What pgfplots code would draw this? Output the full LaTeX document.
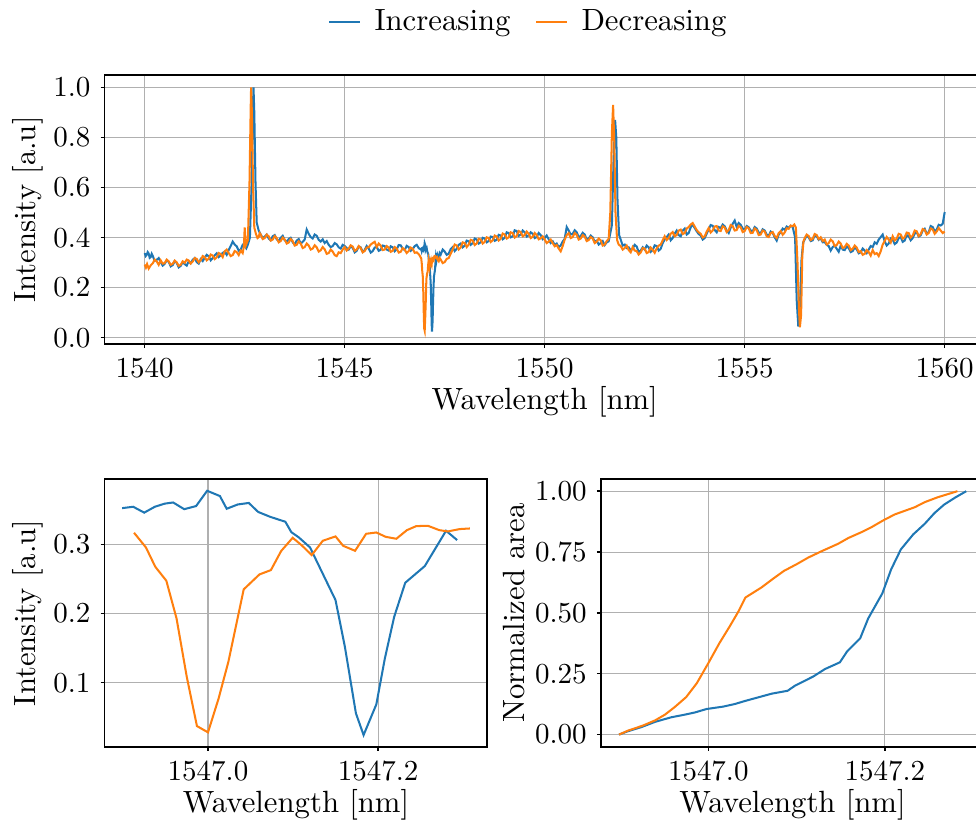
\documentclass[border=0pt]{standalone}
\usepackage{pgfplots}
\pgfplotsset{compat=1.18}

\definecolor{cblue}{RGB}{31,119,180}
\definecolor{corange}{RGB}{255,127,14}
\definecolor{gridgray}{RGB}{176,176,176}

\newcommand{\labelfont}{\fontsize{10.6}{12.7}\selectfont}

% shared look of the three panels
\pgfplotsset{
  specax/.style={
    scale only axis,
    axis line style={black, line width=0.55pt},
    grid=major,
    major grid style={gridgray, line width=0.35pt},
    tick align=outside,
    xtick pos=bottom, ytick pos=left,
    major tick length=1.4pt,
    every tick/.style={black, line width=0.5pt},
    every axis plot/.append style={line width=0.7pt, mark=none},
    label style={font=\labelfont},
    xlabel style={anchor=center},
    ylabel style={anchor=center},
  },
}

% Sweep with increasing wavelength: wavelength [nm], intensity [a.u.]
\pgfplotstableread{
wl intensity
1540.00 0.338
1540.025 0.326
1540.05 0.331
1540.075 0.342
1540.10 0.336
1540.125 0.319
1540.15 0.322
1540.175 0.335
1540.20 0.327
1540.25 0.307
1540.30 0.311
1540.35 0.318
1540.40 0.302
1540.45 0.288
1540.50 0.295
1540.55 0.309
1540.60 0.303
1540.65 0.285
1540.70 0.290
1540.75 0.306
1540.80 0.299
1540.85 0.281
1540.90 0.287
1540.95 0.302
1541.00 0.294
1541.05 0.288
1541.10 0.305
1541.15 0.297
1541.20 0.311
1541.25 0.318
1541.30 0.302
1541.35 0.296
1541.40 0.314
1541.45 0.306
1541.50 0.319
1541.55 0.331
1541.60 0.325
1541.65 0.309
1541.70 0.318
1541.75 0.329
1541.80 0.337
1541.85 0.322
1541.90 0.329
1541.95 0.339
1542.00 0.343
1542.05 0.331
1542.10 0.350
1542.15 0.366
1542.20 0.384
1542.25 0.372
1542.30 0.365
1542.35 0.348
1542.40 0.352
1542.45 0.371
1542.50 0.366
1542.54 0.357
1542.58 0.372
1542.63 0.400
1542.67 0.600
1542.70 0.880
1542.72 1.000
1542.74 0.900
1542.77 0.620
1542.80 0.460
1542.85 0.428
1542.90 0.412
1542.95 0.398
1543.00 0.404
1543.05 0.412
1543.10 0.396
1543.15 0.389
1543.20 0.405
1543.25 0.410
1543.30 0.393
1543.35 0.386
1543.40 0.399
1543.45 0.407
1543.50 0.389
1543.55 0.384
1543.60 0.394
1543.65 0.399
1543.70 0.381
1543.75 0.372
1543.80 0.388
1543.85 0.394
1543.90 0.376
1543.95 0.383
1544.00 0.392
1544.05 0.432
1544.10 0.415
1544.15 0.402
1544.20 0.396
1544.25 0.412
1544.30 0.407
1544.35 0.391
1544.40 0.384
1544.45 0.393
1544.50 0.378
1544.55 0.386
1544.60 0.371
1544.65 0.362
1544.70 0.366
1544.75 0.378
1544.80 0.373
1544.85 0.361
1544.90 0.356
1544.95 0.371
1545.00 0.366
1545.05 0.358
1545.10 0.352
1545.15 0.365
1545.20 0.359
1545.25 0.341
1545.30 0.347
1545.35 0.364
1545.40 0.361
1545.45 0.343
1545.50 0.350
1545.55 0.366
1545.60 0.356
1545.65 0.340
1545.70 0.346
1545.75 0.360
1545.80 0.363
1545.85 0.347
1545.90 0.351
1545.95 0.368
1546.00 0.366
1546.05 0.352
1546.10 0.348
1546.15 0.365
1546.20 0.361
1546.25 0.345
1546.30 0.353
1546.35 0.370
1546.40 0.369
1546.45 0.356
1546.50 0.350
1546.55 0.367
1546.60 0.362
1546.65 0.347
1546.70 0.354
1546.75 0.366
1546.80 0.371
1546.85 0.358
1546.899 0.3525
1546.912 0.3545
1546.925 0.346
1546.9375 0.3545
1546.949 0.359
1546.959 0.3607
1546.972 0.351
1546.986 0.3555
1546.999 0.3776
1547.014 0.370
1547.022 0.3516
1547.035 0.3578
1547.048 0.360
1547.059 0.347
1547.073 0.340
1547.091 0.3328
1547.098 0.3178
1547.107 0.310
1547.120 0.2957
1547.150 0.2195
1547.161 0.152
1547.174 0.0557
1547.183 0.0243
1547.198 0.0687
1547.208 0.135
1547.219 0.1954
1547.232 0.2446
1547.255 0.2687
1547.280 0.3198
1547.293 0.3063
1547.32 0.331
1547.35 0.318
1547.375 0.338
1547.40 0.332
1547.45 0.352
1547.50 0.344
1547.55 0.331
1547.60 0.336
1547.65 0.354
1547.70 0.362
1547.75 0.346
1547.80 0.355
1547.85 0.371
1547.90 0.376
1547.95 0.361
1548.00 0.368
1548.05 0.388
1548.10 0.385
1548.15 0.371
1548.20 0.378
1548.25 0.396
1548.30 0.392
1548.35 0.376
1548.40 0.381
1548.45 0.399
1548.50 0.396
1548.55 0.381
1548.60 0.386
1548.65 0.404
1548.70 0.402
1548.75 0.387
1548.80 0.391
1548.85 0.411
1548.90 0.408
1548.95 0.393
1549.00 0.399
1549.05 0.421
1549.10 0.418
1549.15 0.401
1549.20 0.405
1549.25 0.429
1549.30 0.426
1549.35 0.407
1549.40 0.412
1549.45 0.428
1549.50 0.421
1549.55 0.404
1549.60 0.409
1549.65 0.421
1549.70 0.415
1549.75 0.398
1549.80 0.402
1549.85 0.418
1549.90 0.410
1549.95 0.393
1550.00 0.398
1550.05 0.408
1550.10 0.393
1550.15 0.378
1550.20 0.385
1550.25 0.371
1550.30 0.376
1550.35 0.362
1550.40 0.368
1550.45 0.384
1550.50 0.395
1550.55 0.442
1550.60 0.428
1550.65 0.412
1550.70 0.415
1550.75 0.429
1550.80 0.421
1550.85 0.402
1550.90 0.406
1550.95 0.419
1551.00 0.412
1551.05 0.392
1551.10 0.396
1551.15 0.408
1551.20 0.401
1551.25 0.384
1551.30 0.388
1551.35 0.372
1551.40 0.378
1551.45 0.386
1551.50 0.370
1551.55 0.381
1551.60 0.385
1551.68 0.450
1551.72 0.700
1551.76 0.870
1551.79 0.800
1551.82 0.550
1551.86 0.410
1551.90 0.392
1551.95 0.368
1552.00 0.372
1552.05 0.358
1552.10 0.361
1552.15 0.349
1552.20 0.356
1552.25 0.371
1552.30 0.364
1552.35 0.342
1552.40 0.348
1552.45 0.361
1552.50 0.352
1552.55 0.368
1552.60 0.361
1552.65 0.343
1552.70 0.350
1552.75 0.369
1552.80 0.366
1552.85 0.348
1552.90 0.355
1552.95 0.378
1553.00 0.392
1553.05 0.402
1553.10 0.412
1553.15 0.389
1553.20 0.398
1553.25 0.416
1553.30 0.428
1553.35 0.410
1553.40 0.405
1553.45 0.428
1553.50 0.436
1553.55 0.412
1553.60 0.418
1553.65 0.441
1553.70 0.452
1553.75 0.438
1553.80 0.425
1553.85 0.414
1553.90 0.408
1553.95 0.392
1554.00 0.398
1554.05 0.416
1554.10 0.432
1554.15 0.450
1554.20 0.447
1554.25 0.430
1554.30 0.421
1554.35 0.442
1554.40 0.438
1554.45 0.452
1554.50 0.445
1554.55 0.428
1554.60 0.418
1554.65 0.440
1554.70 0.455
1554.75 0.468
1554.80 0.442
1554.85 0.458
1554.90 0.451
1554.95 0.436
1555.00 0.432
1555.05 0.446
1555.10 0.441
1555.15 0.428
1555.20 0.425
1555.25 0.442
1555.30 0.436
1555.35 0.420
1555.40 0.418
1555.45 0.433
1555.50 0.428
1555.55 0.412
1555.60 0.407
1555.65 0.424
1555.70 0.419
1555.75 0.401
1555.80 0.388
1555.85 0.412
1555.90 0.422
1555.95 0.436
1556.00 0.431
1556.05 0.444
1556.10 0.438
1556.15 0.447
1556.20 0.442
1556.26 0.400
1556.30 0.150
1556.34 0.045
1556.38 0.120
1556.42 0.310
1556.46 0.380
1556.50 0.392
1556.55 0.408
1556.60 0.401
1556.65 0.386
1556.70 0.389
1556.75 0.409
1556.80 0.405
1556.85 0.391
1556.90 0.398
1556.95 0.381
1557.00 0.382
1557.05 0.371
1557.10 0.366
1557.15 0.348
1557.20 0.362
1557.25 0.368
1557.30 0.355
1557.35 0.343
1557.40 0.368
1557.45 0.352
1557.50 0.350
1557.55 0.364
1557.60 0.358
1557.65 0.342
1557.70 0.346
1557.75 0.361
1557.80 0.353
1557.85 0.337
1557.90 0.341
1557.95 0.356
1558.00 0.348
1558.05 0.338
1558.10 0.352
1558.15 0.366
1558.20 0.362
1558.25 0.381
1558.30 0.375
1558.35 0.392
1558.40 0.402
1558.45 0.412
1558.50 0.385
1558.55 0.368
1558.60 0.376
1558.65 0.396
1558.70 0.392
1558.75 0.374
1558.80 0.380
1558.85 0.398
1558.90 0.402
1558.95 0.383
1559.00 0.388
1559.05 0.410
1559.10 0.405
1559.15 0.389
1559.20 0.398
1559.25 0.416
1559.30 0.422
1559.35 0.404
1559.40 0.409
1559.45 0.428
1559.50 0.435
1559.55 0.416
1559.60 0.421
1559.65 0.446
1559.70 0.442
1559.75 0.425
1559.80 0.432
1559.85 0.451
1559.90 0.448
1559.95 0.455
1560.00 0.502
}\incfull

% Sweep with decreasing wavelength
\pgfplotstableread{
wl intensity
1540.00 0.292
1540.03 0.280
1540.06 0.294
1540.10 0.276
1540.15 0.289
1540.20 0.297
1540.25 0.312
1540.30 0.305
1540.35 0.291
1540.40 0.309
1540.45 0.296
1540.50 0.298
1540.55 0.312
1540.60 0.305
1540.65 0.291
1540.70 0.295
1540.75 0.308
1540.80 0.301
1540.85 0.287
1540.90 0.291
1540.95 0.305
1541.00 0.299
1541.05 0.312
1541.10 0.308
1541.15 0.296
1541.20 0.304
1541.25 0.318
1541.30 0.315
1541.35 0.301
1541.40 0.309
1541.45 0.326
1541.50 0.322
1541.55 0.309
1541.60 0.316
1541.65 0.332
1541.70 0.328
1541.75 0.314
1541.80 0.321
1541.85 0.338
1541.90 0.334
1541.95 0.322
1542.00 0.345
1542.05 0.352
1542.10 0.338
1542.15 0.326
1542.20 0.330
1542.25 0.346
1542.30 0.342
1542.35 0.330
1542.40 0.348
1542.45 0.338
1542.48 0.365
1542.50 0.440
1542.53 0.370
1542.58 0.390
1542.62 0.620
1542.65 0.920
1542.66 1.000
1542.68 0.900
1542.71 0.600
1542.74 0.440
1542.78 0.415
1542.82 0.398
1542.85 0.402
1542.875 0.418
1542.90 0.412
1542.95 0.394
1543.00 0.398
1543.05 0.412
1543.10 0.405
1543.15 0.388
1543.20 0.392
1543.25 0.406
1543.30 0.398
1543.35 0.381
1543.40 0.386
1543.45 0.400
1543.50 0.392
1543.55 0.376
1543.60 0.380
1543.65 0.394
1543.70 0.386
1543.75 0.368
1543.80 0.371
1543.85 0.385
1543.90 0.376
1543.95 0.358
1544.00 0.362
1544.05 0.376
1544.10 0.368
1544.15 0.352
1544.20 0.356
1544.25 0.369
1544.30 0.361
1544.35 0.344
1544.40 0.349
1544.45 0.362
1544.50 0.353
1544.55 0.335
1544.60 0.338
1544.65 0.352
1544.70 0.344
1544.75 0.330
1544.80 0.326
1544.85 0.341
1544.90 0.338
1544.95 0.352
1545.00 0.362
1545.05 0.348
1545.10 0.356
1545.15 0.369
1545.20 0.364
1545.25 0.347
1545.30 0.352
1545.35 0.366
1545.40 0.358
1545.45 0.341
1545.50 0.346
1545.55 0.360
1545.60 0.361
1545.65 0.372
1545.70 0.378
1545.75 0.383
1545.80 0.362
1545.85 0.376
1545.90 0.368
1545.95 0.350
1546.00 0.352
1546.05 0.366
1546.10 0.360
1546.15 0.343
1546.20 0.347
1546.25 0.362
1546.30 0.356
1546.35 0.340
1546.40 0.343
1546.45 0.358
1546.50 0.352
1546.55 0.338
1546.60 0.346
1546.65 0.360
1546.70 0.355
1546.75 0.339
1546.80 0.341
1546.86 0.332
1546.913 0.3169
1546.927 0.2957
1546.938 0.2677
1546.951 0.2475
1546.963 0.193
1546.975 0.1087
1546.987 0.0373
1547.000 0.0282
1547.0125 0.0773
1547.024 0.1304
1547.042 0.235
1547.0605 0.2566
1547.074 0.2629
1547.086 0.2904
1547.0996 0.3096
1547.110 0.299
1547.122 0.2846
1547.135 0.3053
1547.150 0.3116
1547.159 0.298
1547.173 0.2908
1547.186 0.3154
1547.198 0.3173
1547.209 0.311
1547.2215 0.3082
1547.234 0.3207
1547.245 0.3265
1547.2586 0.327
1547.272 0.3207
1547.282 0.3188
1547.296 0.3222
1547.308 0.3231
1547.33 0.309
1547.35 0.305
1547.375 0.318
1547.40 0.312
1547.45 0.298
1547.50 0.302
1547.55 0.315
1547.60 0.318
1547.65 0.336
1547.70 0.352
1547.75 0.372
1547.80 0.368
1547.85 0.352
1547.90 0.360
1547.95 0.381
1548.00 0.378
1548.05 0.362
1548.10 0.372
1548.15 0.391
1548.20 0.388
1548.25 0.370
1548.30 0.376
1548.35 0.395
1548.40 0.392
1548.45 0.376
1548.50 0.383
1548.55 0.401
1548.60 0.398
1548.65 0.382
1548.70 0.389
1548.75 0.408
1548.80 0.404
1548.85 0.388
1548.90 0.395
1548.95 0.416
1549.00 0.412
1549.05 0.396
1549.10 0.401
1549.15 0.421
1549.20 0.418
1549.25 0.400
1549.30 0.406
1549.35 0.426
1549.40 0.422
1549.45 0.405
1549.50 0.410
1549.55 0.424
1549.60 0.415
1549.65 0.398
1549.70 0.403
1549.75 0.418
1549.80 0.410
1549.85 0.393
1549.90 0.397
1549.95 0.405
1550.00 0.392
1550.05 0.378
1550.10 0.384
1550.15 0.392
1550.20 0.378
1550.25 0.365
1550.30 0.370
1550.35 0.356
1550.40 0.345
1550.45 0.366
1550.50 0.392
1550.55 0.410
1550.60 0.418
1550.65 0.398
1550.70 0.402
1550.75 0.418
1550.80 0.411
1550.85 0.392
1550.90 0.396
1550.95 0.410
1551.00 0.404
1551.05 0.386
1551.10 0.390
1551.15 0.402
1551.20 0.396
1551.25 0.378
1551.30 0.383
1551.35 0.396
1551.40 0.389
1551.45 0.368
1551.50 0.372
1551.55 0.386
1551.60 0.395
1551.64 0.500
1551.68 0.820
1551.71 0.930
1551.74 0.780
1551.77 0.500
1551.81 0.390
1551.85 0.372
1551.90 0.366
1551.95 0.352
1552.00 0.358
1552.05 0.368
1552.10 0.350
1552.15 0.341
1552.20 0.362
1552.25 0.348
1552.30 0.346
1552.35 0.332
1552.40 0.340
1552.45 0.358
1552.50 0.356
1552.55 0.338
1552.60 0.342
1552.65 0.360
1552.70 0.351
1552.75 0.339
1552.80 0.357
1552.85 0.368
1552.90 0.372
1552.95 0.389
1553.00 0.405
1553.05 0.390
1553.10 0.398
1553.15 0.415
1553.20 0.422
1553.25 0.405
1553.30 0.410
1553.35 0.428
1553.40 0.432
1553.45 0.414
1553.50 0.418
1553.55 0.436
1553.60 0.442
1553.65 0.452
1553.70 0.458
1553.75 0.444
1553.80 0.430
1553.85 0.421
1553.90 0.415
1553.95 0.400
1554.00 0.405
1554.05 0.424
1554.10 0.438
1554.15 0.420
1554.20 0.428
1554.25 0.444
1554.30 0.446
1554.35 0.428
1554.40 0.426
1554.45 0.445
1554.50 0.440
1554.55 0.422
1554.60 0.430
1554.65 0.450
1554.70 0.446
1554.75 0.428
1554.80 0.430
1554.85 0.447
1554.90 0.441
1554.95 0.422
1555.00 0.426
1555.05 0.442
1555.10 0.437
1555.15 0.418
1555.20 0.419
1555.25 0.436
1555.30 0.430
1555.35 0.410
1555.40 0.412
1555.45 0.428
1555.50 0.424
1555.55 0.405
1555.60 0.402
1555.65 0.418
1555.70 0.422
1555.75 0.406
1555.80 0.398
1555.85 0.418
1555.90 0.426
1555.95 0.411
1556.00 0.420
1556.05 0.437
1556.10 0.435
1556.15 0.448
1556.20 0.445
1556.24 0.452
1556.28 0.440
1556.32 0.300
1556.36 0.100
1556.38 0.042
1556.41 0.090
1556.44 0.330
1556.47 0.385
1556.50 0.398
1556.55 0.412
1556.60 0.406
1556.65 0.390
1556.70 0.395
1556.75 0.414
1556.80 0.410
1556.85 0.394
1556.90 0.401
1556.95 0.386
1557.00 0.392
1557.05 0.372
1557.10 0.378
1557.15 0.392
1557.20 0.385
1557.25 0.366
1557.30 0.370
1557.35 0.384
1557.40 0.376
1557.45 0.358
1557.50 0.362
1557.55 0.375
1557.60 0.368
1557.65 0.350
1557.70 0.355
1557.75 0.368
1557.80 0.360
1557.85 0.342
1557.90 0.346
1557.95 0.331
1558.00 0.335
1558.05 0.350
1558.10 0.342
1558.15 0.328
1558.20 0.350
1558.25 0.334
1558.30 0.338
1558.35 0.326
1558.40 0.345
1558.45 0.372
1558.50 0.386
1558.55 0.402
1558.60 0.392
1558.65 0.380
1558.70 0.405
1558.75 0.388
1558.80 0.396
1558.85 0.415
1558.90 0.412
1558.95 0.395
1559.00 0.402
1559.05 0.420
1559.10 0.418
1559.15 0.400
1559.20 0.408
1559.25 0.428
1559.30 0.425
1559.35 0.406
1559.40 0.414
1559.45 0.434
1559.50 0.430
1559.55 0.412
1559.60 0.418
1559.65 0.436
1559.70 0.432
1559.75 0.415
1559.80 0.424
1559.85 0.438
1559.90 0.428
1559.95 0.418
1560.00 0.424
}\decfull

% Zoom on the resonance near 1547 nm; dl = wavelength - 1547 nm
\pgfplotstableread{
dl intensity
-0.101 0.3525
-0.088 0.3545
-0.075 0.346
-0.0625 0.3545
-0.051 0.359
-0.041 0.3607
-0.028 0.351
-0.014 0.3555
-0.001 0.3776
0.014 0.370
0.022 0.3516
0.035 0.3578
0.048 0.360
0.059 0.347
0.073 0.340
0.091 0.3328
0.098 0.3178
0.107 0.310
0.120 0.2957
0.150 0.2195
0.161 0.152
0.174 0.0557
0.183 0.0243
0.198 0.0687
0.208 0.135
0.219 0.1954
0.232 0.2446
0.255 0.2687
0.280 0.3198
0.293 0.3063
}\inczoom

\pgfplotstableread{
dl intensity
-0.087 0.3169
-0.073 0.2957
-0.062 0.2677
-0.049 0.2475
-0.037 0.193
-0.025 0.1087
-0.013 0.0373
0.000 0.0282
0.0125 0.0773
0.024 0.1304
0.042 0.235
0.0605 0.2566
0.074 0.2629
0.086 0.2904
0.0996 0.3096
0.110 0.299
0.122 0.2846
0.135 0.3053
0.150 0.3116
0.159 0.298
0.173 0.2908
0.186 0.3154
0.198 0.3173
0.209 0.311
0.2215 0.3082
0.234 0.3207
0.245 0.3265
0.2586 0.327
0.272 0.3207
0.282 0.3188
0.296 0.3222
0.308 0.3231
}\deczoom

% Normalized cumulative area of the dip; dl = wavelength - 1547 nm
\pgfplotstableread{
dl area
-0.101 0.0
-0.091 0.0136
-0.0755 0.031
-0.0604 0.052
-0.042 0.071
-0.0264 0.082
-0.015 0.091
-0.002 0.105
0.017 0.115
0.030 0.1255
0.0415 0.138
0.0566 0.153
0.0717 0.168
0.0898 0.180
0.098 0.2005
0.119 0.239
0.132 0.269
0.149 0.297
0.157 0.341
0.172 0.396
0.181 0.477
0.197 0.580
0.207 0.679
0.218 0.761
0.232 0.8226
0.245 0.866
0.256 0.910
0.267 0.945
0.280 0.975
0.292 1.0
}\incarea

\pgfplotstableread{
dl area
-0.101 0.0
-0.091 0.016
-0.074 0.037
-0.060 0.0587
-0.049 0.082
-0.038 0.113
-0.025 0.154
-0.013 0.211
0.000 0.293
0.0125 0.375
0.0245 0.446
0.034 0.505
0.042 0.563
0.060 0.604
0.0736 0.641
0.0857 0.6726
0.100 0.700
0.113 0.727
0.128 0.753
0.147 0.784
0.1585 0.8076
0.1736 0.832
0.185 0.8527
0.198 0.880
0.211 0.9045
0.234 0.9345
0.245 0.955
0.260 0.9755
0.282 1.0
}\decarea

\begin{document}
\begin{tikzpicture}

% full spectrum
\begin{axis}[specax,
  at={(36.12pt,-25.88pt)}, anchor=north west,
  width=303.6pt, height=92.81pt,
  xmin=1539, xmax=1561, ymin=-0.0252, ymax=1.049,
  xtick={1540,1545,1550,1555,1560},
  xticklabels={1540,1545,1550,1555,1560},
  ytick={0,0.2,0.4,0.6,0.8,1.0},
  yticklabels={0.0,0.2,0.4,0.6,0.8,1.0},
  xlabel={Wavelength [nm]},
  ylabel={Intensity [a.u]},
  xlabel style={at={(axis description cs:0.5,-0.2156)}},
  ylabel style={at={(axis description cs:-0.0872,0.5)}},
  legend columns=2,
  legend style={at={(axis description cs:0.4835,1.197)}, anchor=center,
    draw=none, fill=none, font=\labelfont,
    /tikz/every odd column/.append style={column sep=2.6pt},
    /tikz/every even column/.append style={column sep=6.5pt}},
  legend image code/.code={\draw[#1] (0pt,0pt) -- (10.7pt,0pt);},
]
\addplot[cblue] table[x=wl, y=intensity] {\incfull};
\addlegendentry{Increasing}
\addplot[corange] table[x=wl, y=intensity] {\decfull};
\addlegendentry{Decreasing}
\end{axis}

% zoom on the resonance
\begin{axis}[specax,
  at={(36.12pt,-165.26pt)}, anchor=north west,
  width=132.0pt, height=92.36pt,
  xmin=-0.1215, xmax=0.3285, ymin=0.0074, ymax=0.3946,
  xtick={0,0.2}, xticklabels={1547.0,1547.2},
  ytick={0.1,0.2,0.3}, yticklabels={0.1,0.2,0.3},
  xlabel={Wavelength [nm]},
  ylabel={Intensity [a.u]},
  xlabel style={at={(axis description cs:0.5,-0.2167)}},
  ylabel style={at={(axis description cs:-0.2005,0.5)}},
]
\addplot[cblue] table[x=dl, y=intensity] {\inczoom};
\addplot[corange] table[x=dl, y=intensity] {\deczoom};
\end{axis}

% normalized area
\begin{axis}[specax,
  at={(207.35pt,-165.26pt)}, anchor=north west,
  width=132.1pt, height=92.36pt,
  xmin=-0.1214, xmax=0.312, ymin=-0.05, ymax=1.05,
  xtick={0,0.2}, xticklabels={1547.0,1547.2},
  ytick={0,0.25,0.5,0.75,1}, yticklabels={0.00,0.25,0.50,0.75,1.00},
  xlabel={Wavelength [nm]},
  ylabel={Normalized area},
  xlabel style={at={(axis description cs:0.5,-0.2167)}},
  ylabel style={at={(axis description cs:-0.2285,0.5)}},
]
\addplot[cblue] table[x=dl, y=area] {\incarea};
\addplot[corange] table[x=dl, y=area] {\decarea};
\end{axis}

\pgfresetboundingbox
\path[use as bounding box] (0pt,0pt) rectangle (336.72pt,-284.63pt);
\end{tikzpicture}
\end{document}
